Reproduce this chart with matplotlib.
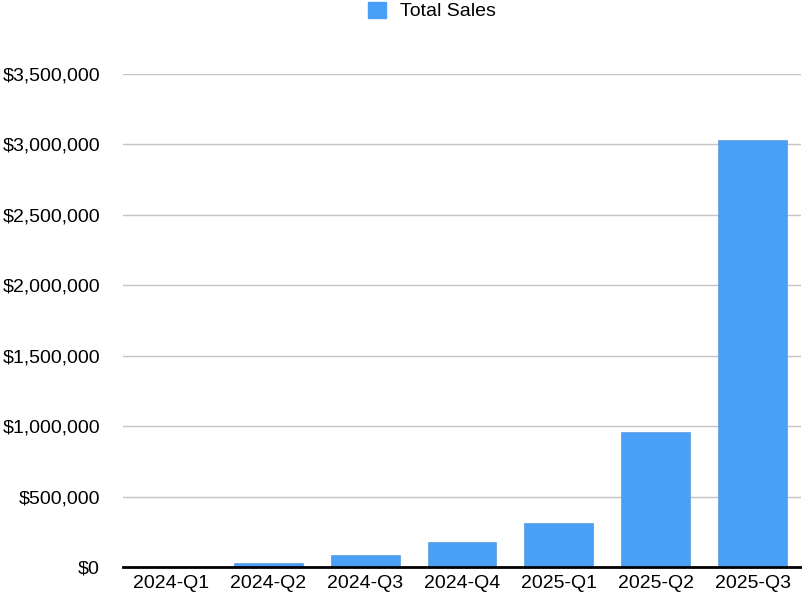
import matplotlib
matplotlib.use("Agg")
import matplotlib.pyplot as plt
from matplotlib.ticker import FuncFormatter, MultipleLocator
from matplotlib.patches import Patch

categories = ["2024-Q1", "2024-Q2", "2024-Q3", "2024-Q4", "2025-Q1", "2025-Q2", "2025-Q3"]
total_sales = [2000, 25000, 88000, 180000, 315000, 955000, 3032000]
series_name = "Total Sales"

plt.rcParams['font.family'] = ['Liberation Sans', 'DejaVu Sans']
color = '#4a9ff6'

fig = plt.figure(figsize=(8.02, 6.0), dpi=100)
ax = fig.add_axes([123/802, 33/600, 678/802, (567-74)/600])

ax.bar(range(len(categories)), total_sales, width=0.71, color=color,
       edgecolor='#5a9ad8', linewidth=0.5, zorder=3)

ax.set_xlim(-0.5, len(categories) - 0.5)
ax.set_ylim(0, 3500000)
ax.yaxis.set_major_locator(MultipleLocator(500000))
ax.yaxis.set_major_formatter(FuncFormatter(lambda v, p: "${:,.0f}".format(v)))
ax.set_xticks(range(len(categories)))
ax.set_xticklabels(categories)

ax.grid(axis='y', color='#c4c4c4', linewidth=1.0, zorder=0)
for s in ['top', 'right', 'left']:
    ax.spines[s].set_visible(False)
ax.spines['bottom'].set_color('black')
ax.spines['bottom'].set_linewidth(2.0)
ax.spines['bottom'].set_zorder(4)
ax.tick_params(axis='y', length=0, pad=16.5, labelsize=14)
ax.tick_params(axis='x', length=0, pad=6, labelsize=14)

handles = [Patch(facecolor=color, edgecolor=color, label=series_name)]
fig.legend(handles=handles, loc='center', bbox_to_anchor=(0.539, 1 - 11/600),
           frameon=False, fontsize=14, handlelength=0.93, handleheight=0.93,
           handletextpad=0.72, borderpad=0.2)

fig.savefig("out.png", dpi=100)
